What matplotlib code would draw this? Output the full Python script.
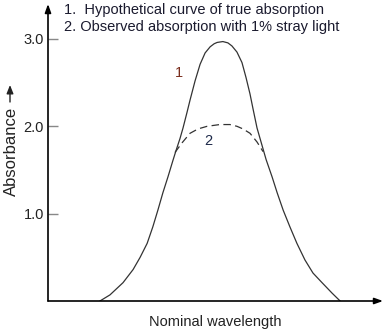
import matplotlib
matplotlib.use('Agg')
import matplotlib.pyplot as plt
from matplotlib.patches import FancyArrowPatch

plt.rcParams['font.family'] = ['Liberation Sans', 'DejaVu Sans']

# Curve 1: hypothetical true absorption
wl_true = [1.55, 1.85, 2.24, 2.54, 2.75, 2.96, 3.13, 3.28, 3.43, 3.58, 3.73,
           3.82, 3.94, 4.03, 4.15, 4.24, 4.39, 4.54, 4.69, 4.84, 4.96, 5.05,
           5.22, 5.37, 5.49, 5.64, 5.79, 5.91, 6.03, 6.12, 6.24, 6.42, 6.51,
           6.69, 6.84, 7.02, 7.22, 7.43, 7.67, 7.91, 8.18, 8.48, 8.72]
abs_true = [0.00, 0.07, 0.21, 0.36, 0.50, 0.66, 0.85, 1.04, 1.24, 1.42, 1.61,
            1.72, 1.86, 1.98, 2.16, 2.30, 2.52, 2.71, 2.84, 2.91, 2.945, 2.96,
            2.97, 2.955, 2.92, 2.85, 2.73, 2.56, 2.37, 2.20, 1.98, 1.74, 1.62,
            1.42, 1.24, 1.04, 0.85, 0.66, 0.47, 0.32, 0.21, 0.09, 0.00]

# Curve 2: observed absorption with 1% stray light
wl_obs = [3.79, 4.00, 4.24, 4.48, 4.75, 5.13, 5.43, 5.64, 5.82, 6.03, 6.24, 6.42]
abs_obs = [1.70, 1.81, 1.92, 1.97, 2.00, 2.02, 2.02, 2.00, 1.97, 1.92, 1.82, 1.71]

yticks = [1.0, 2.0, 3.0]
ytick_labels = ['1.0', '2.0', '3.0']
notes = ['1.  Hypothetical curve of true absorption',
         '2. Observed absorption with 1% stray light']

fig = plt.figure(figsize=(3.85, 3.3), dpi=100)
ax = fig.add_axes([48 / 385, 29 / 330, 335 / 385, 297 / 330])

ax.plot(wl_true, abs_true, color='#333333', lw=0.9, solid_joinstyle='round')
ax.plot(wl_obs, abs_obs, color='#333333', lw=0.9, dashes=(6, 3.5))

ax.set_xlim(0, 10)
ax.set_ylim(0, 3.4)

# axes drawn as arrows
for s in ax.spines.values():
    s.set_visible(False)
ax.annotate('', xy=(0, 1), xytext=(0, 0), xycoords='axes fraction',
            arrowprops=dict(arrowstyle='-|>,head_length=0.5,head_width=0.18',
                            color='black', lw=1.2, shrinkA=0, shrinkB=0))
ax.annotate('', xy=(1, 0), xytext=(0, 0), xycoords='axes fraction',
            arrowprops=dict(arrowstyle='-|>,head_length=0.5,head_width=0.18',
                            color='black', lw=1.2, shrinkA=0, shrinkB=0))

ax.set_xticks([])
ax.set_yticks(yticks)
ax.set_yticklabels(ytick_labels, fontsize=10.5, color='#222222')
ax.tick_params(axis='y', direction='in', length=7, width=1, color='#888888', pad=3)

# curve numbers
ax.text(3.9, 2.61, '1', fontsize=10.5, color='#7a2e1e', ha='center', va='center')
ax.text(4.78, 1.83, '2', fontsize=10.5, color='#1e2a4a', ha='center', va='center')

# notes at top
fig.text(64 / 385, 1 - 10 / 330, notes[0], fontsize=10.5, color='#1a1a2e', va='center')
fig.text(64 / 385, 1 - 27 / 330, notes[1], fontsize=10.5, color='#1a1a2e', va='center')

# axis labels
fig.text(215 / 385, 1 - 322 / 330, 'Nominal wavelength', fontsize=10.5,
         color='#222222', ha='center', va='center')
fig.text(11 / 385, 1 - 151 / 330, 'Absorbance', fontsize=12, rotation=90,
         color='#222222', ha='center', va='center')
fig.add_artist(FancyArrowPatch(
    (10 / 385, 1 - 102 / 330), (10 / 385, 1 - 85 / 330),
    transform=fig.transFigure, arrowstyle='-|>,head_length=0.5,head_width=0.2',
    mutation_scale=10, color='#222222', lw=1, shrinkA=0, shrinkB=0))

fig.savefig('out.png', dpi=100)
